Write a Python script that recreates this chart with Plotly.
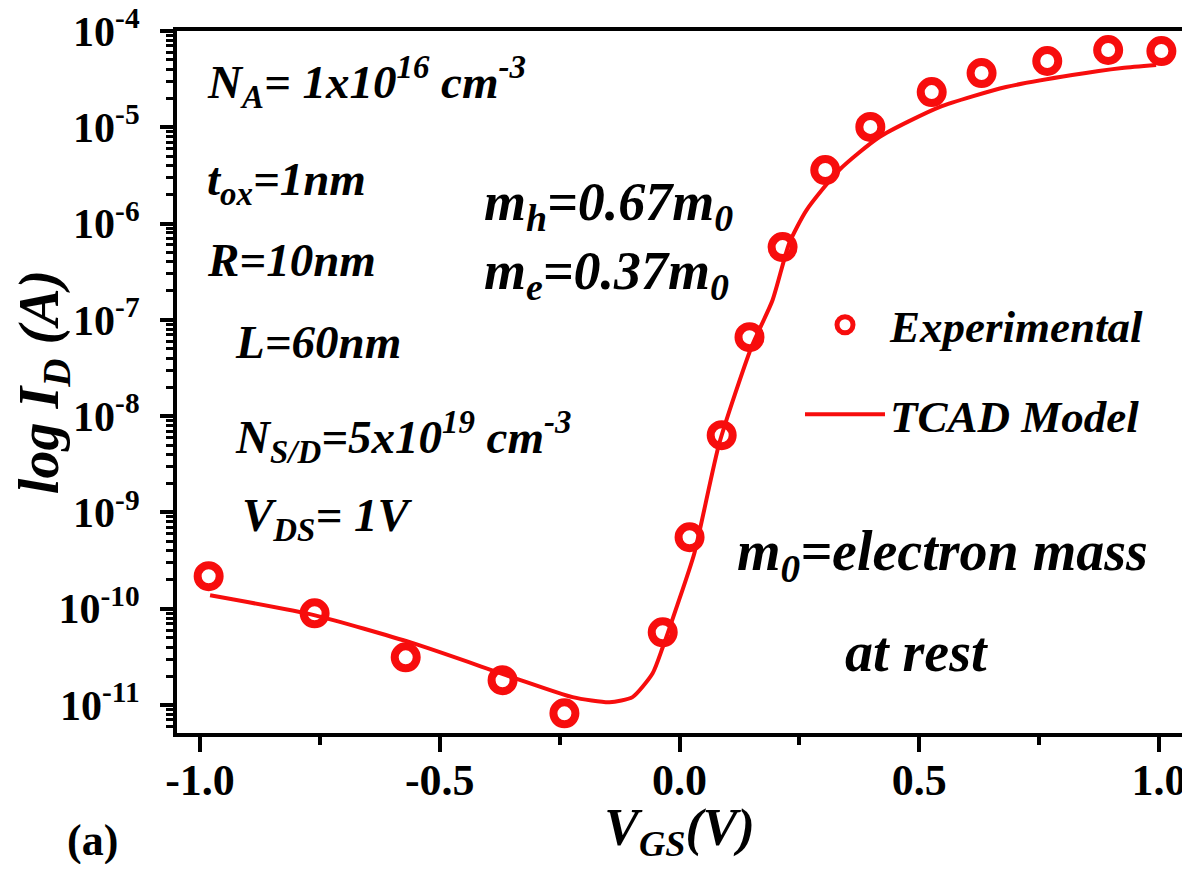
import plotly.graph_objects as go

# ---------------- data ----------------
vgs_exp = [-0.982, -0.761, -0.571, -0.369, -0.240, -0.035, 0.021, 0.088, 0.146,
           0.215, 0.304, 0.398, 0.526, 0.630, 0.767, 0.894, 1.005]
id_exp = [2.18e-10, 8.97e-11, 3.13e-11, 1.81e-11, 8.2e-12, 5.7e-11, 5.53e-10, 6.35e-9,
          6.62e-8, 5.70e-7, 3.60e-6, 1.01e-5, 2.32e-5, 3.66e-5, 4.88e-5, 6.35e-5, 6.19e-5]

vgs_tcad = [-0.979, -0.760, -0.556, -0.348, -0.223, -0.146, -0.098, -0.056, -0.035,
            -0.006, 0.031, 0.083, 0.150, 0.194, 0.229, 0.265, 0.333, 0.417, 0.542,
            0.681, 0.819, 0.923, 0.994]
id_tcad = [1.38e-10, 8.55e-11, 4.39e-11, 1.94e-11, 1.21e-11, 1.07e-11, 1.21e-11, 2.14e-11,
           3.98e-11, 1.04e-10, 3.78e-10, 5.24e-9, 5.21e-8, 1.60e-7, 6.27e-7, 1.38e-6,
           3.60e-6, 7.93e-6, 1.62e-5, 2.62e-5, 3.49e-5, 4.13e-5, 4.44e-5]

x_tick_vals = [-1.0, -0.5, 0.0, 0.5, 1.0]
x_tick_text = ["-1.0", "-0.5", "0.0", "0.5", "1.0"]
x_minor_vals = [-0.75, -0.25, 0.25, 0.75]
y_exponents = [-11, -10, -9, -8, -7, -6, -5, -4]

# ---------------- style ----------------
RED = "#f70d0d"
FONT = "Liberation Serif, Times New Roman, Tinos, serif"
OFF = 8                      # page body margin
W, H = 1180, 856
ML, MT = 177 - OFF, 31 - OFF
MR = W - (1182 - OFF)
MB = H - (733 - OFF)
PW, PH = W - ML - MR, H - MT - MB

y_tick_vals = [10.0 ** e for e in y_exponents]
y_tick_text = ["10<sup>%d</sup>" % e for e in y_exponents]
y_minor_vals = [d * 10.0 ** e for e in y_exponents[:-1] for d in range(2, 10)]
y_minor_vals += [d * 10.0 ** (y_exponents[0] - 1) for d in range(5, 10)]

fig = go.Figure()
fig.add_trace(go.Scatter(
    x=vgs_exp, y=id_exp, mode="markers", name="Experimental", legendgroup="exp",
    marker=dict(symbol="circle-open", size=22, color=RED, line=dict(width=8, color=RED)),
))
fig.add_trace(go.Scatter(
    x=vgs_tcad, y=id_tcad, mode="lines", name="TCAD Model", legendgroup="tcad",
    line=dict(color=RED, width=4, shape="spline", smoothing=0.6),
))


def px(xp):
    return (xp - OFF - ML) / PW


def py(yp):
    return (H - MB - (yp - OFF)) / PH


texts = [
    ("N<sub>A</sub>= 1x10<sup>16</sup> cm<sup>-3</sup>", 205, 82, 47),
    ("t<sub>ox</sub>=1nm", 205, 183, 47),
    ("R=10nm", 205, 260, 47),
    ("L=60nm", 233, 342, 47),
    ("N<sub>S/D</sub>=5x10<sup>19</sup> cm<sup>-3</sup>", 233, 437, 47),
    ("V<sub>DS</sub>= 1V", 240, 518, 47),
    ("m<sub>h</sub>=0.67m<sub>0</sub>", 482, 205, 54),
    ("m<sub>e</sub>=0.37m<sub>0</sub>", 482, 274, 54),
    ("m<sub>0</sub>=electron mass", 735, 555, 56),
    ("at rest", 843, 652, 56),
]
annotations = []
for t, x, y, s in texts:
    annotations.append(dict(
        text=t, x=px(x), y=py(y), xref="paper", yref="paper",
        xanchor="left", yanchor="middle", showarrow=False,
        font=dict(family=FONT, size=s, color="black", weight="bold", style="italic"),
    ))
annotations.append(dict(
    text="(a)", x=px(65), y=py(840), xref="paper", yref="paper",
    xanchor="left", yanchor="middle", showarrow=False,
    font=dict(family=FONT, size=44, color="black", weight="bold"),
))

axis_common = dict(
    showline=True, linewidth=4, linecolor="black", mirror=True,
    ticks="outside", tickcolor="black", showgrid=False, zeroline=False,
    ticklabeloverflow="allow",
)

fig.update_layout(
    width=W, height=H,
    margin=dict(l=ML, r=MR, t=MT, b=MB, autoexpand=False),
    paper_bgcolor="white", plot_bgcolor="white",
    font=dict(family=FONT, color="black"),
    showlegend=True,
    legend=dict(
        x=px(800), y=py(289), xanchor="left", yanchor="top",
        bgcolor="rgba(0,0,0,0)", borderwidth=0,
        font=dict(family=FONT, size=45, color="black", weight="bold", style="italic"),
        tracegroupgap=28, itemwidth=80,
    ),
    annotations=annotations,
    xaxis=dict(
        **axis_common,
        range=[-1.048, 1.048],
        tickmode="array", tickvals=x_tick_vals, ticktext=x_tick_text,
        ticklen=15, tickwidth=4,
        tickfont=dict(family=FONT, size=44, color="black", weight="bold"),
        ticklabelstandoff=-10,
        minor=dict(tickmode="array", tickvals=x_minor_vals, ticks="outside",
                   ticklen=8, tickwidth=4, tickcolor="black", showgrid=False),
        title=dict(text="V<sub>GS</sub>(V)", standoff=12,
                   font=dict(family=FONT, size=52, color="black", weight="bold", style="italic")),
    ),
    yaxis=dict(
        **axis_common,
        type="log", range=[-11.29, -4.0],
        tickmode="array", tickvals=y_tick_vals, ticktext=y_tick_text,
        ticklen=13, tickwidth=4,
        tickfont=dict(family=FONT, size=42, color="black", weight="bold"),
        ticklabelstandoff=12,
        minor=dict(tickmode="array", tickvals=y_minor_vals, ticks="outside",
                   ticklen=7, tickwidth=2.5, tickcolor="black", showgrid=False),
        title=dict(text="log I<sub>D</sub> (A)", standoff=4,
                   font=dict(family=FONT, size=56, color="black", weight="bold", style="italic")),
    ),
)

fig.write_html("out.html")
